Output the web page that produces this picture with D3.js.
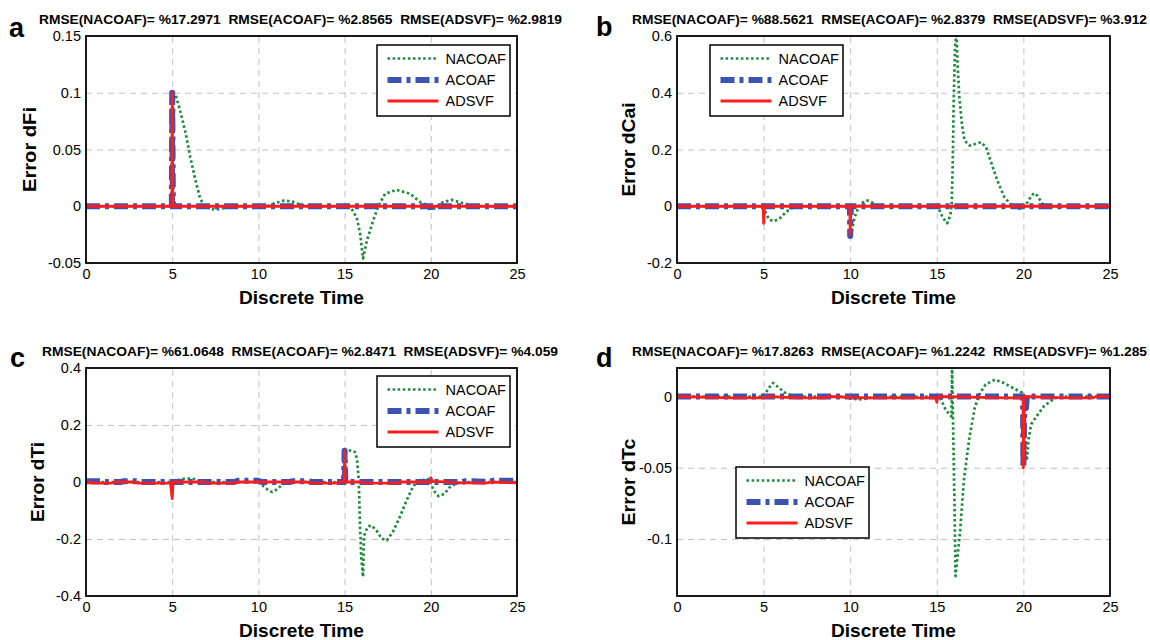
<!DOCTYPE html>
<html>
<head>
<meta charset="utf-8">
<script src="https://cdn.jsdelivr.net/npm/d3@7"></script>
<style>
  body { margin: 0; background: #fff; }
  svg { display: block; }
  text { font-family: "Liberation Sans", Arial, Helvetica, sans-serif; fill: #000; }
</style>
</head>
<body>
<svg id="chart" width="1150" height="640"></svg>
<script>
// ---- shared values ----
const timeTicks = [0, 5, 10, 15, 20, 25];
const seriesNames = ["NACOAF", "ACOAF", "ADSVF"];

// ---- panel a : Error dFi ----
const fiTicks = [-0.05, 0, 0.05, 0.1, 0.15];
const fiRmse = ["%17.2971", "%2.8565", "%2.9819"];
const fiNacoaf = [[0,0],[5,0],[5.05,0.1],[5.2,0.098],[5.5,0.082],[5.8,0.063],[6.05,0.043],[6.35,0.023],[6.6,0.008],[6.85,0],[7.2,-0.002],[7.5,-0.003],[8.2,-0.001],[8.6,0],[10.5,0],[11,0.003],[11.5,0.005],[12,0.004],[12.5,0.001],[13,0],[15.1,0],[15.4,-0.002],[15.7,-0.01],[15.9,-0.024],[16.07,-0.046],[16.3,-0.03],[16.65,-0.013],[16.95,0],[17.35,0.011],[18,0.0145],[18.8,0.011],[19.4,0.0035],[19.95,0],[20.2,-0.002],[20.7,0.0035],[21.2,0.0056],[21.9,0.0026],[22.5,0],[25,0]];
const fiAcoaf = [[0,0],[4.98,0],[5,0.1],[5.04,0],[19.97,0],[20,-0.005],[20.05,0],[25,0]];
const fiAdsvf = [[0,0],[4.98,0],[5,0.1],[5.04,0.003],[5.1,0],[25,0]];

// ---- panel b : Error dCai ----
const caiTicks = [-0.2, 0, 0.2, 0.4, 0.6];
const caiRmse = ["%88.5621", "%2.8379", "%3.912"];
const caiNacoaf = [[0,0],[5,0],[5.1,-0.02],[5.3,-0.045],[5.55,-0.053],[5.9,-0.045],[6.3,-0.02],[6.8,0],[10,0],[10.05,-0.1],[10.25,-0.04],[10.5,0],[10.8,0.018],[11,0.02],[11.3,0.012],[11.6,0],[15.05,0],[15.35,-0.041],[15.6,-0.06],[15.78,-0.033],[15.86,0.008],[15.92,0.15],[15.98,0.385],[16.05,0.55],[16.13,0.62],[16.2,0.5],[16.3,0.385],[16.45,0.29],[16.6,0.232],[16.9,0.214],[17.25,0.22],[17.55,0.226],[17.85,0.208],[18.1,0.161],[18.5,0.09],[18.9,0.032],[19.25,0.008],[19.75,-0.009],[20.05,-0.004],[20.35,0.026],[20.6,0.046],[20.8,0.038],[21.1,0.008],[21.4,0],[25,0]];
const caiAcoaf = [[0,0],[9.98,0],[10,-0.105],[10.04,0],[25,0]];
const caiAdsvf = [[0,0],[4.98,0],[5,-0.06],[5.05,0],[9.98,0],[10,-0.1],[10.04,0],[14.95,0],[15,0.004],[15.05,0],[19.95,0],[20,0.004],[20.05,0],[25,0]];

// ---- panel c : Error dTi ----
const tiTicks = [-0.4, -0.2, 0, 0.2, 0.4];
const tiRmse = ["%61.0648", "%2.8471", "%4.059"];
const tiNacoaf = [[0,0],[5,0],[5.3,0.006],[5.6,0.011],[6,0.012],[6.3,0.01],[6.6,0],[10,0],[10.3,-0.015],[10.6,-0.03],[10.8,-0.035],[11.1,-0.025],[11.4,-0.008],[11.7,0],[15,0],[15.02,0.108],[15.4,0.111],[15.6,0.105],[15.72,0.08],[15.82,0.006],[15.9,-0.17],[15.93,-0.2],[15.96,-0.26],[16.07,-0.333],[16.12,-0.19],[16.33,-0.158],[16.54,-0.152],[16.85,-0.17],[17.15,-0.199],[17.45,-0.205],[17.8,-0.175],[18.2,-0.123],[18.6,-0.064],[19,-0.012],[19.35,0],[19.75,0.012],[19.95,0.008],[20.15,-0.029],[20.45,-0.05],[20.8,-0.041],[21.1,-0.018],[21.5,-0.004],[21.9,0],[25,0]];
const tiAcoaf = [[0,0.003],[1.0,0.003],[1.1,0],[2.0,0],[2.2,0.003],[3.0,0.003],[3.2,0],[8.6,0],[8.8,0.004],[10,0.004],[10.2,0],[11.8,0],[12,0.003],[12.9,0.003],[13.1,0],[14.97,0],[15,0.11],[15.04,0],[21.8,0],[22,0.003],[23.4,0],[23.6,0.004],[25,0.004]];
const tiAdsvf = [[0,0],[0.4,-0.004],[1.5,-0.004],[1.7,0],[2.8,0],[3,-0.004],[4.9,-0.004],[5,-0.058],[5.05,0],[6.8,0],[7,-0.004],[8.6,-0.004],[8.8,0],[12.8,0],[13,-0.004],[14.5,-0.004],[14.7,0],[14.97,0],[15,0.11],[15.04,0],[16,0],[16.2,-0.004],[18,-0.004],[18.2,0],[19.95,0],[20,0.015],[20.1,0.002],[21,0],[21.2,-0.003],[23.3,-0.003],[23.5,0],[25,-0.003]];

// ---- panel d : Error dTc ----
const tcTicks = [-0.1, -0.05, 0];
const tcRmse = ["%17.8263", "%1.2242", "%1.285"];
const tcNacoaf = [[0,0],[5,0],[5.3,0.006],[5.55,0.0095],[5.9,0.006],[6.3,0.002],[6.8,0],[9.5,0],[10,-0.0015],[10.5,-0.002],[11,-0.0015],[11.5,0],[15,0],[15.2,-0.001],[15.5,-0.009],[15.72,-0.0125],[15.85,-0.014],[15.88,0.021],[15.93,-0.0125],[15.99,-0.054],[16.04,-0.089],[16.08,-0.126],[16.35,-0.094],[16.56,-0.059],[16.88,-0.029],[17.19,-0.008],[17.5,0.0026],[17.82,0.0084],[18.35,0.0118],[18.87,0.0095],[19.4,0.006],[19.93,0.0026],[20,0],[20.05,-0.01],[20.12,-0.03],[20.2,-0.045],[20.3,-0.03],[20.45,-0.0195],[20.77,-0.0137],[21.19,-0.0067],[21.72,-0.002],[22.1,0],[25,0]];
const tcAcoaf = [[0,0],[19.98,0],[20,-0.05],[20.05,-0.008],[20.15,-0.008],[20.2,0],[25,0]];
const tcAdsvf = [[0,0],[3,-0.001],[5,-0.001],[5.2,0],[7,-0.001],[8.5,-0.001],[8.7,0],[11,-0.001],[14.95,-0.001],[15,-0.004],[15.05,0],[19,-0.001],[19.98,-0.001],[20,-0.05],[20.03,0],[22.5,-0.001],[24,-0.001],[24.2,0],[25,0]];

// ---- line appearance ----
const lineStyles = {
  NACOAF: { color: "#1d8a3c", width: 2.7, dash: "2.5,2.6" },
  ACOAF:  { color: "#3c53b2", width: 6,   dash: "14,5,4,5" },
  ADSVF:  { color: "#ff1d1d", width: 2.8, dash: null }
};

// ---- panel layout ----
const panels = [
  { letter: "a", label: "Error dFi", ticks: fiTicks, yDomain: [-0.05, 0.15], rmse: fiRmse,
    series: [fiNacoaf, fiAcoaf, fiAdsvf],
    x0: 86, x1: 517, y0: 36, y1: 263, labelX: 36, labelLen: 85,
    letterX: 9, letterY: 37, titleX: 39, titleY: 24, titleW: 523, legX: 377, legY: 45 },
  { letter: "b", label: "Error dCai", ticks: caiTicks, yDomain: [-0.2, 0.6], rmse: caiRmse,
    series: [caiNacoaf, caiAcoaf, caiAdsvf],
    x0: 677, x1: 1110, y0: 36, y1: 263, labelX: 635, labelLen: 94,
    letterX: 596, letterY: 36, titleX: 632, titleY: 24, titleW: 515, legX: 710, legY: 45 },
  { letter: "c", label: "Error dTi", ticks: tiTicks, yDomain: [-0.4, 0.4], rmse: tiRmse,
    series: [tiNacoaf, tiAcoaf, tiAdsvf],
    x0: 86, x1: 517, y0: 368, y1: 596, labelX: 43.5, labelLen: 80,
    letterX: 10, letterY: 367, titleX: 42, titleY: 356, titleW: 516, legX: 377, legY: 376 },
  { letter: "d", label: "Error dTc", ticks: tcTicks, yDomain: [-0.14, 0.02], rmse: tcRmse,
    series: [tcNacoaf, tcAcoaf, tcAdsvf],
    x0: 677, x1: 1110, y0: 368, y1: 596, labelX: 635, labelLen: 87,
    letterX: 596, letterY: 367, titleX: 632, titleY: 356, titleW: 515, legX: 736, legY: 467 }
];

const svg = d3.select("#chart");

panels.forEach(p => {
  const g = svg.append("g");
  const x = d3.scaleLinear().domain([0, 25]).range([p.x0, p.x1]);
  const y = d3.scaleLinear().domain(p.yDomain).range([p.y1, p.y0]);
  const w = p.x1 - p.x0, h = p.y1 - p.y0;

  // plot background
  g.append("rect").attr("x", p.x0).attr("y", p.y0).attr("width", w).attr("height", h).attr("fill", "#fff");

  // dashed grid
  g.append("g").attr("transform", `translate(0,${p.y1})`)
    .call(d3.axisBottom(x).tickValues(timeTicks.slice(1, -1)).tickSize(-h).tickFormat(""))
    .call(s => s.select(".domain").remove())
    .call(s => s.selectAll("line").attr("stroke", "#c2c2c2").attr("stroke-width", 1).attr("stroke-dasharray", "6,5"));
  g.append("g").attr("transform", `translate(${p.x0},0)`)
    .call(d3.axisLeft(y).tickValues(p.ticks.filter(t => t > p.yDomain[0] && t < p.yDomain[1])).tickSize(-w).tickFormat(""))
    .call(s => s.select(".domain").remove())
    .call(s => s.selectAll("line").attr("stroke", "#c2c2c2").attr("stroke-width", 1).attr("stroke-dasharray", "6,5"));

  // tick labels
  g.append("g").attr("transform", `translate(0,${p.y1})`)
    .call(d3.axisBottom(x).tickValues(timeTicks).tickSize(0).tickPadding(6).tickFormat(d => String(d)))
    .call(s => s.select(".domain").remove())
    .call(s => s.selectAll("text").attr("font-size", 14.5).attr("font-family", null));
  g.append("g").attr("transform", `translate(${p.x0},0)`)
    .call(d3.axisLeft(y).tickValues(p.ticks).tickSize(0).tickPadding(5).tickFormat(d => String(d)))
    .call(s => s.select(".domain").remove())
    .call(s => s.selectAll("text").attr("font-size", 14.5).attr("font-family", null));

  // data lines
  const clipId = "clip-" + p.letter;
  svg.append("clipPath").attr("id", clipId)
    .append("rect").attr("x", p.x0).attr("y", p.y0).attr("width", w).attr("height", h);
  const line = d3.line().x(d => x(d[0])).y(d => y(d[1]));
  const lines = g.append("g").attr("clip-path", `url(#${clipId})`);
  p.series.forEach((data, k) => {
    const st = lineStyles[seriesNames[k]];
    lines.append("path").datum(data)
      .attr("d", line)
      .attr("fill", "none")
      .attr("stroke", st.color)
      .attr("stroke-width", st.width)
      .attr("stroke-dasharray", st.dash)
      .attr("stroke-linejoin", "round");
  });

  // frame
  g.append("rect").attr("x", p.x0).attr("y", p.y0).attr("width", w).attr("height", h)
    .attr("fill", "none").attr("stroke", "#000").attr("stroke-width", 1.8);

  // legend
  const lg = g.append("g").attr("transform", `translate(${p.legX},${p.legY})`);
  lg.append("rect").attr("width", 133).attr("height", 71)
    .attr("fill", "#fff").attr("stroke", "#000").attr("stroke-width", 1.5);
  const rowY = [13.5, 35, 56];
  seriesNames.forEach((name, k) => {
    const st = lineStyles[name];
    lg.append("line").attr("x1", 10.5).attr("x2", 61.5).attr("y1", rowY[k]).attr("y2", rowY[k])
      .attr("stroke", st.color).attr("stroke-width", st.width)
      .attr("stroke-dasharray", st.dash);
    lg.append("text").attr("x", 68.5).attr("y", rowY[k]).attr("dy", "0.36em")
      .attr("font-size", 14.5).text(name);
  });

  // axis titles
  g.append("text").attr("x", (p.x0 + p.x1) / 2).attr("y", p.y1 + 41)
    .attr("text-anchor", "middle").attr("font-size", 18).attr("font-weight", "bold")
    .attr("textLength", 125).attr("lengthAdjust", "spacingAndGlyphs")
    .text("Discrete Time");
  g.append("text").attr("transform", `translate(${p.labelX},${(p.y0 + p.y1) / 2}) rotate(-90)`)
    .attr("text-anchor", "middle").attr("font-size", 18.5).attr("font-weight", "bold")
    .attr("textLength", p.labelLen).attr("lengthAdjust", "spacingAndGlyphs")
    .text(p.label);

  // RMSE heading
  g.append("text").attr("x", p.titleX).attr("y", p.titleY)
    .attr("font-size", 13).attr("font-weight", "bold")
    .attr("textLength", p.titleW).attr("lengthAdjust", "spacingAndGlyphs")
    .style("white-space", "pre")
    .text(`RMSE(NACOAF)= ${p.rmse[0]}  RMSE(ACOAF)= ${p.rmse[1]}  RMSE(ADSVF)= ${p.rmse[2]}`);

  // panel letter
  g.append("text").attr("x", p.letterX).attr("y", p.letterY)
    .attr("font-size", 27).attr("font-weight", "bold").text(p.letter);
});
</script>
</body>
</html>
